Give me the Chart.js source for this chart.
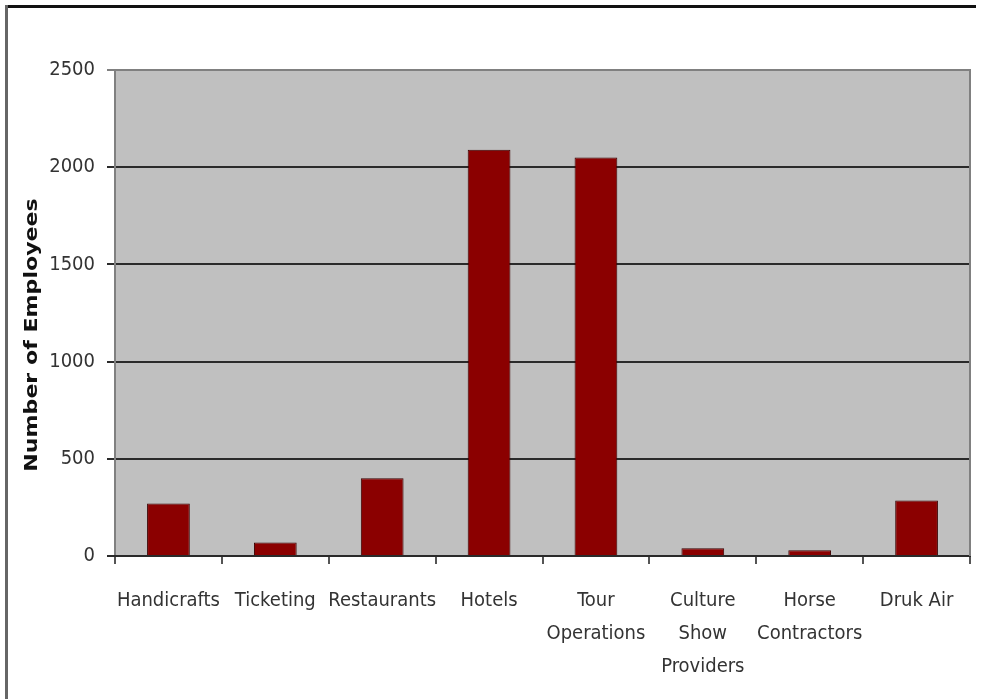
<!DOCTYPE html>
<html>
<head>
<meta charset="utf-8">
<script src="https://cdn.jsdelivr.net/npm/chart.js@4/dist/chart.umd.min.js"></script>
<style>
  body { margin: 0; background: #fff; }
  canvas { display: block; }
</style>
</head>
<body>
<canvas id="employees-chart" width="984" height="699"></canvas>
<script>
const categories = [
    'Handicrafts',
    'Ticketing',
    'Restaurants',
    'Hotels',
    ['Tour', 'Operations'],
    ['Culture', 'Show', 'Providers'],
    ['Horse', 'Contractors'],
    'Druk Air'
];
const employees = [270, 70, 400, 2090, 2050, 40, 30, 285];
const yTicks = [0, 500, 1000, 1500, 2000, 2500];
const yTitle = 'Number of Employees';

const labelFont = "'DejaVu Sans Condensed', 'Liberation Sans Narrow', sans-serif";

// grey plot area, outline and the page frame
const chartDecor = {
    id: 'chartDecor',
    beforeDraw(chart) {
        const { ctx, chartArea: a } = chart;
        ctx.save();
        ctx.fillStyle = '#c0c0c0';
        ctx.fillRect(a.left, a.top, a.right - a.left, a.bottom - a.top);
        ctx.restore();
    },
    afterDraw(chart) {
        const { ctx, chartArea: a } = chart;
        ctx.save();
        ctx.strokeStyle = '#808080';
        ctx.lineWidth = 2;
        ctx.beginPath();
        ctx.moveTo(a.right, a.bottom);
        ctx.lineTo(a.right, a.top);
        ctx.lineTo(a.left, a.top);
        ctx.stroke();

        ctx.strokeStyle = '#111';
        ctx.lineWidth = 3;
        ctx.beginPath();
        ctx.moveTo(5, 6.5);
        ctx.lineTo(976, 6.5);
        ctx.stroke();
        ctx.strokeStyle = '#666';
        ctx.beginPath();
        ctx.moveTo(6.5, 5);
        ctx.lineTo(6.5, 699);
        ctx.stroke();

        // axis title, stretched along its length
        ctx.translate(33, 335);
        ctx.rotate(-Math.PI / 2);
        ctx.scale(1.3, 1);
        ctx.font = "bold 17px 'DejaVu Sans', Verdana, sans-serif";
        ctx.fillStyle = '#111';
        ctx.textAlign = 'center';
        ctx.textBaseline = 'middle';
        ctx.fillText(yTitle, 0, 0);
        ctx.restore();
    }
};

new Chart(document.getElementById('employees-chart'), {
    type: 'bar',
    data: {
        labels: categories,
        datasets: [{
            data: employees,
            backgroundColor: '#8b0000',
            borderColor: '#3a0000',
            borderWidth: 1,
            categoryPercentage: 1,
            barPercentage: 0.4
        }]
    },
    options: {
        responsive: false,
        animation: false,
        layout: { padding: { top: 70, right: 14, left: 0, bottom: 0 } },
        plugins: {
            legend: { display: false },
            tooltip: { enabled: false }
        },
        scales: {
            y: {
                min: 0,
                max: 2500,
                afterFit(scale) { scale.width = 115; },
                afterBuildTicks(scale) { scale.ticks = yTicks.map(v => ({ value: v })); },
                border: { display: true, color: '#808080', width: 2 },
                grid: {
                    color: ctx => ctx.tick && ctx.tick.value === 2500 ? '#808080' : '#2a2a2a',
                    lineWidth: 2,
                    tickLength: 8
                },
                ticks: {
                    padding: 12,
                    color: '#333',
                    font: { family: labelFont, size: 20 },
                    callback: v => String(v)
                }
            },
            x: {
                afterFit(scale) { scale.height = 143; },
                border: { display: true, color: '#2a2a2a', width: 2 },
                grid: {
                    offset: true,
                    drawOnChartArea: false,
                    color: '#555',
                    lineWidth: 2,
                    tickLength: 8
                },
                ticks: {
                    autoSkip: false,
                    maxRotation: 0,
                    padding: 20,
                    color: '#333',
                    font: { family: labelFont, size: 20, lineHeight: 1.65 }
                }
            }
        }
    },
    plugins: [chartDecor]
});
</script>
</body>
</html>
